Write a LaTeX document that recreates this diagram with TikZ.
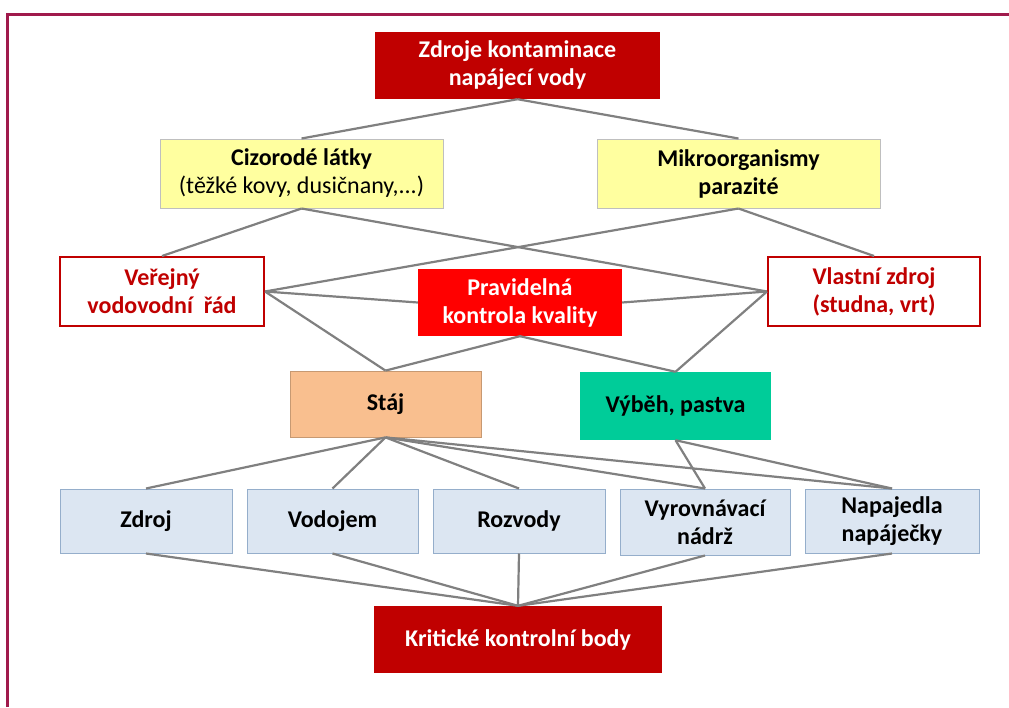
\documentclass[tikz,border=0pt]{standalone}
\usepackage{fontspec}
\setmainfont{Carlito}
\definecolor{darkred}{HTML}{C00000}
\definecolor{brightred}{HTML}{FF0000}
\definecolor{lyellow}{HTML}{FFFF9F}
\definecolor{orangebox}{HTML}{F9BF8F}
\definecolor{tealbox}{HTML}{00CC99}
\definecolor{lblue}{HTML}{DCE6F2}
\definecolor{lbluebd}{HTML}{95AECB}
\definecolor{framecol}{HTML}{A01A4C}
\definecolor{linecol}{HTML}{808080}
\begin{document}
\begin{tikzpicture}[x=1pt,y=-1pt,
  box/.style={rectangle, inner sep=2pt, align=center, font=\fontsize{24}{28}\selectfont\bfseries},
  conn/.style={draw=linecol, line width=2.2pt}
]
\useasboundingbox (0,0) rectangle (1009,707);
\fill[white] (0,0) rectangle (1009,707);
\draw[framecol, line width=3pt] (7,707) -- (7,14) -- (1009,14);

\node[box, fill=darkred, text=white, minimum width=285pt, minimum height=67pt] (top) at (517.5,65.5) {Zdroje kontaminace\\napájecí vody};
\node[box, fill=lyellow, draw=black!25, line width=1pt, minimum width=283pt, minimum height=69pt] (ciz) at (301.5,173.5) {Cizorodé látky\\\mdseries(těžké kovy, dusičnany,...)};
\node[box, fill=lyellow, draw=black!25, line width=1pt, minimum width=283pt, minimum height=69pt] (mik) at (738.5,173.5) {Mikroorganismy\\parazité};
\node[box, fill=white, draw=darkred, text=darkred, line width=2pt, minimum width=204pt, minimum height=69pt] (ver) at (162,291.5) {Veřejný\\vodovodní\ \ řád};
\node[box, fill=brightred, text=white, minimum width=204pt, minimum height=67pt] (pra) at (520,302.5) {Pravidelná\\kontrola kvality};
\node[box, fill=white, draw=darkred, text=darkred, line width=2pt, minimum width=212pt, minimum height=69pt] (vla) at (874,291.5) {Vlastní zdroj\\(studna, vrt)};
\node[box, fill=orangebox, draw=orangebox!80!black, line width=0.8pt, minimum width=191pt, minimum height=66pt] (staj) at (385.5,404) {Stáj};
\node[box, fill=tealbox, minimum width=191pt, minimum height=68pt] (vyb) at (675.5,406) {Výběh, pastva};
\node[box, fill=lblue, draw=lbluebd, line width=1pt, minimum width=172pt, minimum height=64pt] (zdroj) at (146,521) {Zdroj};
\node[box, fill=lblue, draw=lbluebd, line width=1pt, minimum width=171pt, minimum height=64pt] (vodo) at (332.5,521) {Vodojem};
\node[box, fill=lblue, draw=lbluebd, line width=1pt, minimum width=172pt, minimum height=64pt] (rozv) at (519,521) {Rozvody};
\node[box, fill=lblue, draw=lbluebd, line width=1pt, minimum width=170pt, minimum height=66pt] (vyro) at (705,522) {Vyrovnávací\\nádrž};
\node[box, fill=lblue, draw=lbluebd, line width=1pt, minimum width=174pt, minimum height=64pt] (napa) at (892,521) {Napajedla\\napáječky};
\node[box, fill=darkred, text=white, minimum width=288pt, minimum height=67pt] (krit) at (518,639.5) {Kritické kontrolní body};

\draw[conn] (top.south) -- (ciz.north);
\draw[conn] (top.south) -- (mik.north);
\draw[conn] (ciz.south) -- (ver.north);
\draw[conn] (ciz.south) -- (vla.west);
\draw[conn] (mik.south) -- (ver.east);
\draw[conn] (mik.south) -- (vla.north);
\draw[conn] (ver.east) -- (pra.west);
\draw[conn] (vla.west) -- (pra.east);
\draw[conn] (ver.east) -- (staj.north);
\draw[conn] (pra.south) -- (staj.north);
\draw[conn] (pra.south) -- (vyb.north);
\draw[conn] (vla.west) -- (vyb.north);
\foreach \b in {zdroj,vodo,rozv,vyro,napa}{
  \draw[conn] (staj.south) -- (\b.north);
  \draw[conn] (\b.south) -- (krit.north);
}
\draw[conn] (vyb.south) -- (vyro.north);
\draw[conn] (vyb.south) -- (napa.north);
\end{tikzpicture}
\end{document}
